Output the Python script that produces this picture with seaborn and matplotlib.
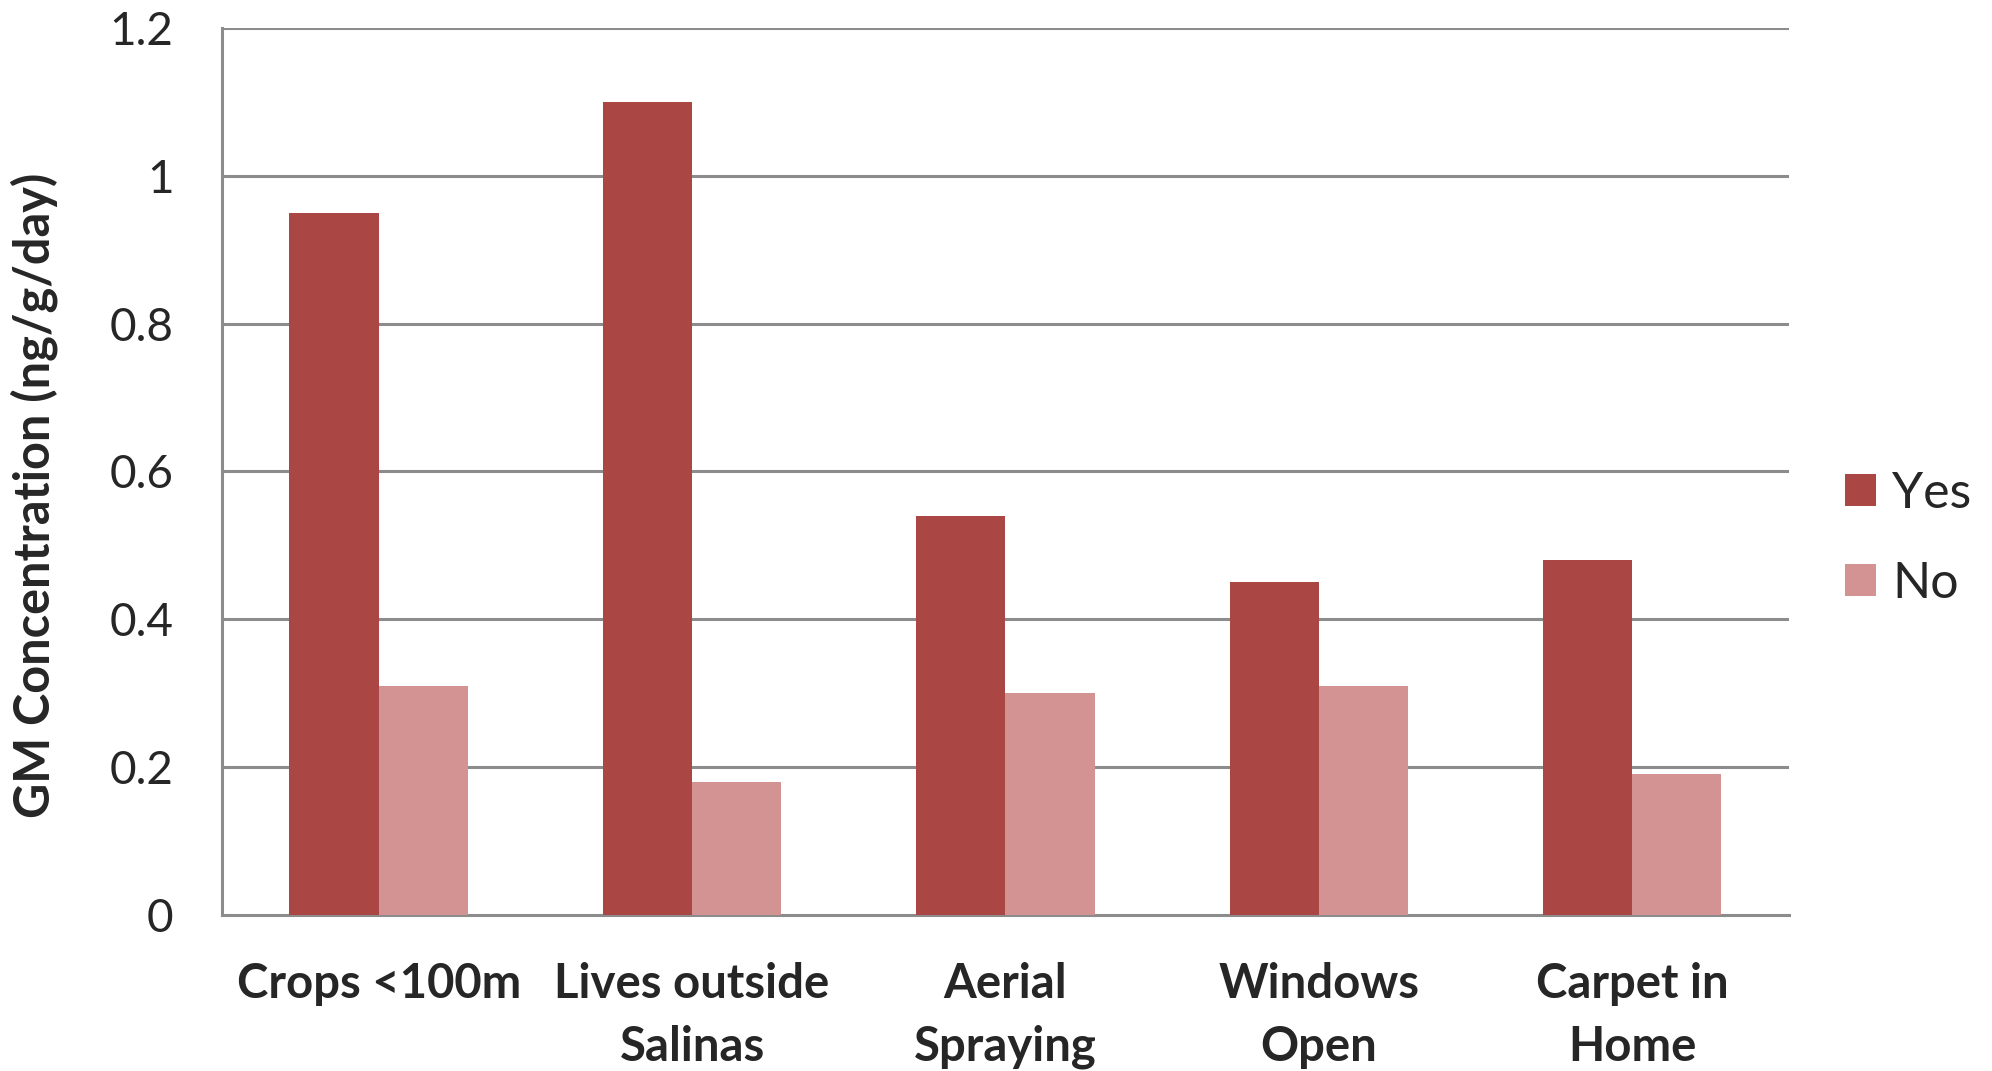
import matplotlib
matplotlib.use("Agg")
import matplotlib.pyplot as plt
import seaborn as sns
import pandas as pd

categories = ["Crops <100m", "Lives outside\nSalinas", "Aerial\nSpraying", "Windows\nOpen", "Carpet in\nHome"]
yes_values = [0.95, 1.10, 0.54, 0.45, 0.48]
no_values = [0.31, 0.18, 0.30, 0.31, 0.19]
series_names = ["Yes", "No"]
y_ticks = [0, 0.2, 0.4, 0.6, 0.8, 1.0, 1.2]
y_tick_labels = ["0", "0.2", "0.4", "0.6", "0.8", "1", "1.2"]

df = pd.DataFrame({
    "category": categories * 2,
    "group": [series_names[0]] * len(categories) + [series_names[1]] * len(categories),
    "value": yes_values + no_values,
})

sns.set_theme(style="white")
plt.rcParams["font.family"] = ["Lato", "DejaVu Sans"]

fig = plt.figure(figsize=(19.92, 10.71), dpi=100)
ax = fig.add_axes([0.1115, 0.1457, 0.7865, 0.8283])

palette = {"Yes": "#AA4744", "No": "#D39392"}
sns.barplot(data=df, x="category", y="value", hue="group", order=categories,
            hue_order=series_names, palette=palette, width=0.57, saturation=1,
            linewidth=0, ax=ax, legend=True, zorder=3)

grid_color = "#8c8c8c"
ax.set_ylim(0, 1.2)
ax.set_xlim(-0.5, len(categories) - 0.5)
ax.set_yticks(y_ticks)
ax.set_yticklabels(y_tick_labels)
for yv in y_ticks[1:]:
    ax.axhline(yv, color=grid_color, lw=2.2, zorder=1)

ax.set_xticks([i - 0.5 for i in range(len(categories) + 1)], minor=False)
ax.set_xticklabels([])
ax.set_xticks(range(len(categories)), minor=True)
ax.set_xticklabels(categories, minor=True, fontsize=34, fontweight="bold",
                   linespacing=1.52, va="top")
ax.tick_params(axis="x", which="major", length=14, width=1.6, color=grid_color, direction="out")
ax.tick_params(axis="x", which="minor", length=0, pad=34)
ax.tick_params(axis="y", which="major", length=11, width=2.2, color=grid_color,
               direction="out", labelsize=33, pad=24)

for side in ["top", "right"]:
    ax.spines[side].set_visible(False)
for side in ["left", "bottom"]:
    ax.spines[side].set_color(grid_color)
    ax.spines[side].set_linewidth(2.2)

ax.set_xlabel("")
ax.set_ylabel("GM Concentration (ng/g/day)", fontsize=35, fontweight="bold")
ax.yaxis.set_label_coords(-0.105, 0.473)

leg = ax.legend(loc="center left", bbox_to_anchor=(1.007, 0.424), frameon=False,
                fontsize=36, handlelength=0.62, handleheight=0.62, handletextpad=0.33,
                labelspacing=0.88)

fig.savefig("out.png", dpi=100)
